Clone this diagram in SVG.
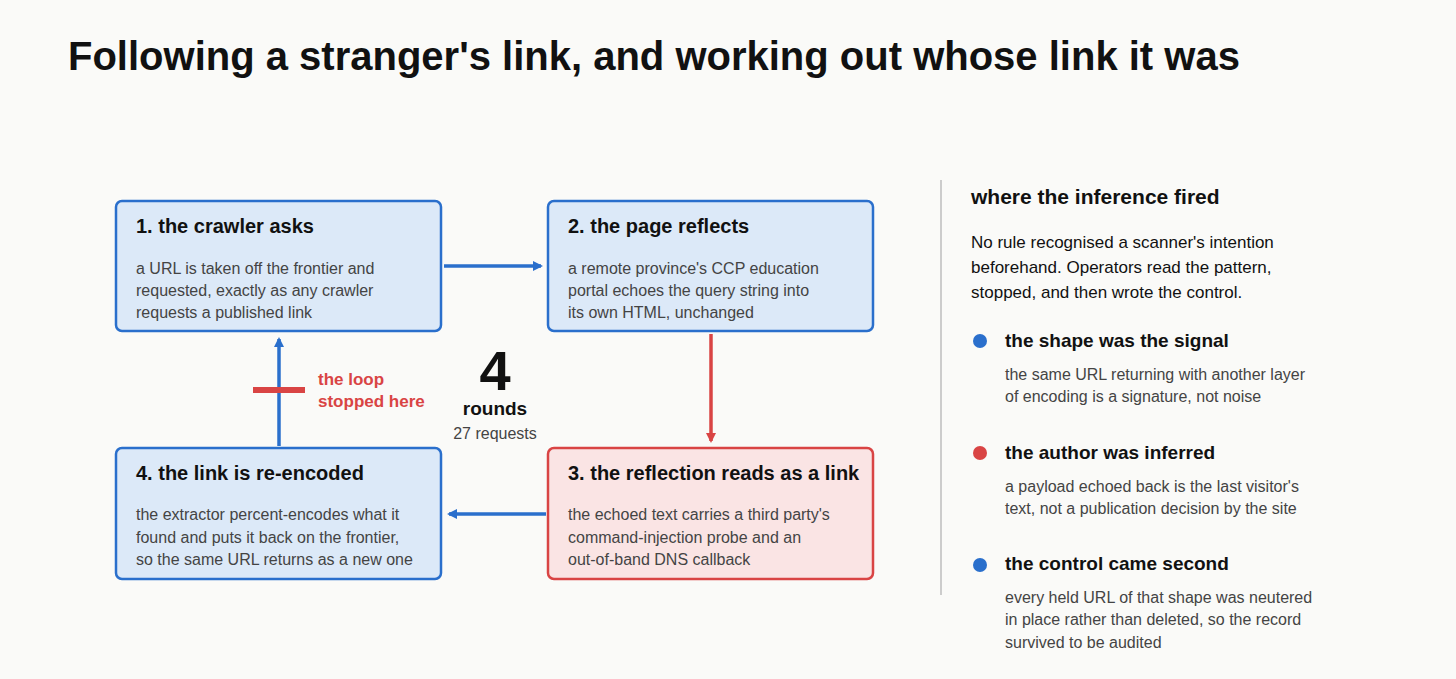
<svg xmlns="http://www.w3.org/2000/svg" width="1456" height="679" viewBox="0 0 1456 679">
<style>
text{font-family:"Liberation Sans",Arial,sans-serif}
.t{font-size:20px;font-weight:bold;fill:#111}
.b{font-size:16px;fill:#444}
.bl{fill:#dce9f8;stroke:#2a6fcc;stroke-width:2.5}
.rd{fill:#fae4e4;stroke:#d94444;stroke-width:2.5}
.h{font-size:19px;font-weight:bold;fill:#111}
.p{font-size:17px;fill:#111}
</style>
<defs>
<marker id="ab" markerWidth="10" markerHeight="10" refX="8" refY="5" orient="auto" markerUnits="userSpaceOnUse"><path d="M0,0 L10,5 L0,10 Z" fill="#2a6fcc"/></marker>
<marker id="ar" markerWidth="10" markerHeight="10" refX="8" refY="5" orient="auto" markerUnits="userSpaceOnUse"><path d="M0,0 L10,5 L0,10 Z" fill="#d94444"/></marker>
</defs>
<rect width="1456" height="679" fill="#fafaf8"/>
<text x="68" y="70" style="font-size:40px;font-weight:bold;fill:#111">Following a stranger's link, and working out whose link it was</text>
<g id="connectors" stroke-width="3.5" fill="none">
<line x1="444" y1="266" x2="541" y2="266" stroke="#2a6fcc" marker-end="url(#ab)"/>
<line x1="711" y1="334" x2="711" y2="441" stroke="#d94444" marker-end="url(#ar)"/>
<line x1="546" y1="514" x2="449" y2="514" stroke="#2a6fcc" marker-end="url(#ab)"/>
<line x1="279" y1="446" x2="279" y2="339" stroke="#2a6fcc" marker-end="url(#ab)"/>
<line x1="253" y1="390" x2="305" y2="390" stroke="#d94444" stroke-width="6"/>
</g>
<g id="n1"><rect class="bl" x="116" y="201" width="325" height="130" rx="6"/>
<text class="t" x="136" y="233">1. the crawler asks</text>
<text class="b" x="136" y="274">a URL is taken off the frontier and</text>
<text class="b" x="136" y="296">requested, exactly as any crawler</text>
<text class="b" x="136" y="318">requests a published link</text></g>
<g id="n2"><rect class="bl" x="548" y="201" width="325" height="130" rx="6"/>
<text class="t" x="568" y="233">2. the page reflects</text>
<text class="b" x="568" y="274">a remote province's CCP education</text>
<text class="b" x="568" y="296">portal echoes the query string into</text>
<text class="b" x="568" y="318">its own HTML, unchanged</text></g>
<g id="n3"><rect class="rd" x="548" y="448" width="325" height="131" rx="6"/>
<text class="t" x="568" y="480">3. the reflection reads as a link</text>
<text class="b" x="568" y="520">the echoed text carries a third party's</text>
<text class="b" x="568" y="543">command-injection probe and an</text>
<text class="b" x="568" y="565">out-of-band DNS callback</text></g>
<g id="n4"><rect class="bl" x="116" y="448" width="325" height="131" rx="6"/>
<text class="t" x="136" y="480">4. the link is re-encoded</text>
<text class="b" x="136" y="520">the extractor percent-encodes what it</text>
<text class="b" x="136" y="543">found and puts it back on the frontier,</text>
<text class="b" x="136" y="565">so the same URL returns as a new one</text></g>
<g id="loop-label"><text x="318" y="385" style="font-size:17px;font-weight:bold;fill:#d94444">the loop</text>
<text x="318" y="407" style="font-size:17px;font-weight:bold;fill:#d94444">stopped here</text></g>
<g id="counter" text-anchor="middle">
<text x="495" y="390" style="font-size:56px;font-weight:bold;fill:#111">4</text>
<text x="495" y="415" style="font-size:19px;font-weight:bold;fill:#111">rounds</text>
<text x="495" y="439" class="b">27 requests</text></g>
<line x1="941" y1="180" x2="941" y2="595" stroke="#cccccc" stroke-width="2"/>
<g id="panel">
<text x="971" y="204" style="font-size:21px;font-weight:bold;fill:#111">where the inference fired</text>
<text class="p" x="971" y="248">No rule recognised a scanner's intention</text>
<text class="p" x="971" y="273">beforehand. Operators read the pattern,</text>
<text class="p" x="971" y="298">stopped, and then wrote the control.</text>
<circle cx="980" cy="341" r="7" fill="#2a6fcc"/>
<text class="h" x="1005" y="347">the shape was the signal</text>
<text class="b" x="1005" y="380">the same URL returning with another layer</text>
<text class="b" x="1005" y="402">of encoding is a signature, not noise</text>
<circle cx="980" cy="453" r="7" fill="#d94444"/>
<text class="h" x="1005" y="459">the author was inferred</text>
<text class="b" x="1005" y="492">a payload echoed back is the last visitor's</text>
<text class="b" x="1005" y="514">text, not a publication decision by the site</text>
<circle cx="980" cy="565" r="7" fill="#2a6fcc"/>
<text class="h" x="1005" y="570">the control came second</text>
<text class="b" x="1005" y="603">every held URL of that shape was neutered</text>
<text class="b" x="1005" y="625">in place rather than deleted, so the record</text>
<text class="b" x="1005" y="648">survived to be audited</text>
</g>
</svg>
